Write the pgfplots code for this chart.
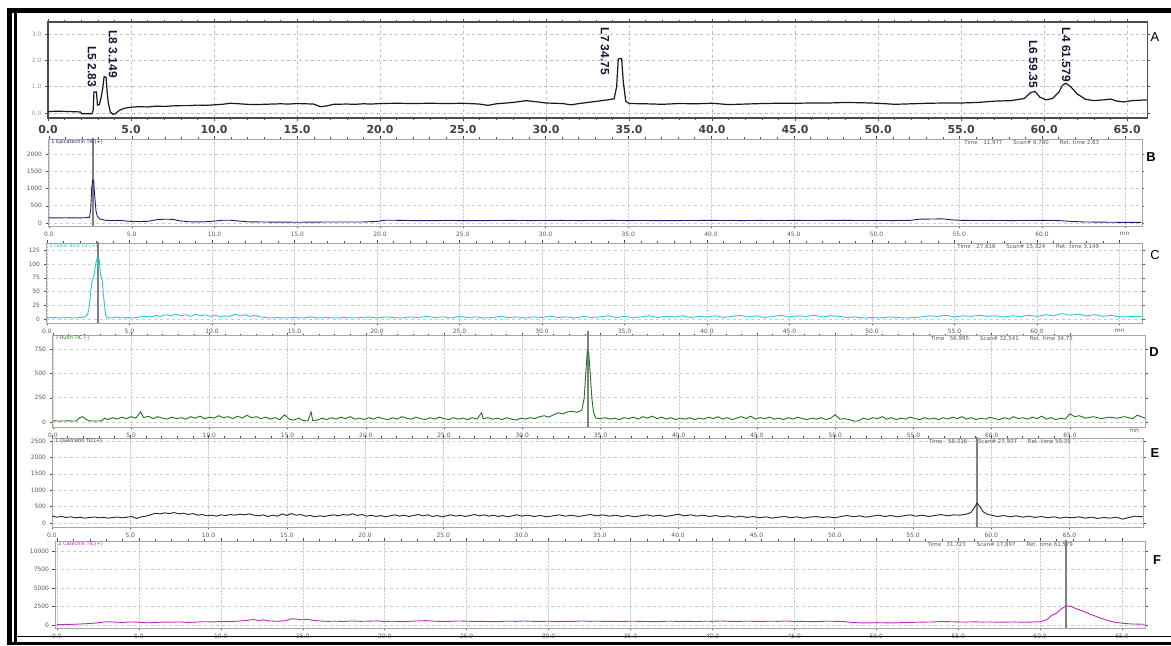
\documentclass[border=0pt]{standalone}
\usepackage{pgfplots}
\pgfplotsset{compat=1.18}
\usepackage{fontspec}
\setmainfont{DejaVu Sans}
\newfontfamily\lib{Liberation Sans}
\definecolor{navyc}{RGB}{30,30,110}
\definecolor{cyanc}{RGB}{40,200,210}
\definecolor{greenc}{RGB}{30,115,30}
\definecolor{magc}{RGB}{190,40,190}
\definecolor{lblc}{RGB}{20,20,55}
\tikzset{
  tl/.style={anchor=north west, inner sep=1bp, font=\fontsize{5}{5}\selectfont},
  tr/.style={anchor=north east, inner sep=1bp, font=\fontsize{5.5}{5.5}\selectfont, text=gray!70!black},
  mnl/.style={anchor=north, inner sep=1bp, font=\fontsize{6}{6}\selectfont, text=gray!70!black, yshift=-1bp},
  cursor/.style={black!50, line width=2bp},
}
\pgfplotsset{
  every axis/.append style={scale only axis, anchor=south west},
  chrom/.style={
    xtick={0,5,...,65},
    minor x tick num=4,
    tick align=outside,
    major tick length=2.5bp, minor tick length=1.5bp,
    tick style={gray!60!black, line width=0.4bp},
    axis line style={gray!70, line width=0.7bp},
    grid=major,
    major x grid style={densely dotted, gray!40, line width=0.5bp},
    major y grid style={dashed, gray!40, line width=0.5bp},
    ticklabel style={font=\fontsize{6}{6}\selectfont, text=gray!70!black},
    /pgf/number format/assume math mode=true,
    /pgf/number format/1000 sep={},
    scaled y ticks=false,
  },
  labB/.style={xticklabels={0.0,5.0,10.0,15.0,20.0,25.0,30.0,35.0,40.0,45.0,50.0,55.0,60.0,mn}},
  labD/.style={xticklabels={0.0,5.0,10.0,15.0,20.0,25.0,30.0,35.0,40.0,45.0,50.0,55.0,60.0,65.0}},
}
\begin{document}
\begin{tikzpicture}
\useasboundingbox (0bp,0bp) rectangle (1171bp,646bp);
% outer frame
\fill[black] (7bp,633bp) rectangle (1171bp,638bp);
\fill[black] (7bp,1bp) rectangle (12bp,638bp);
\fill[black] (14bp,1bp) rectangle (16.5bp,633bp);
\fill[black] (7bp,1bp) rectangle (1171bp,4bp);
\draw[black, line width=1bp] (14bp,9bp) -- (1171bp,9bp);

% ---------------- Panel A ----------------
\begin{axis}[at={(48bp,528bp)}, width=1099bp, height=96bp,
  xmin=0, xmax=66.2, ymin=-0.19, ymax=3.46,
  xtick={0,5,...,65},
  xticklabels={0.0,5.0,10.0,15.0,20.0,25.0,30.0,35.0,40.0,45.0,50.0,55.0,60.0,65.0},
  minor x tick num=4,
  ytick={0,1,2,3}, yticklabels={0.0,1.0,2.0,3.0},
  tick align=outside, major tick length=3bp, minor tick length=2bp,
  tick style={black!70, line width=0.6bp},
  axis line style={black!70, line width=1.1bp},
  grid=major, grid style={dashed, gray!50, line width=0.6bp},
  xticklabel style={font=\bfseries\fontsize{11}{11}\selectfont, text=black!75, yshift=-1bp},
  yticklabel style={font=\fontsize{6}{6}\selectfont, text=gray!80},
]
\addplot[black!90, line width=1.2bp] coordinates {
(0,0.05)(0.5,0.07)(1,0.06)(1.5,0.05)(1.95,0.04)(2.05,-0.03)(2.65,-0.03)(2.72,0.1)(2.77,0.8)(2.92,0.8)(2.98,0.3)(3.1,0.32)(3.2,0.6)(3.3,0.95)(3.38,1.38)(3.5,1.36)(3.56,0.8)(3.63,0.4)(3.75,0.05)(3.9,-0.05)(4.05,-0.03)(4.3,0.1)(4.6,0.18)(5,0.22)(5.5,0.24)(6,0.23)(6.5,0.26)(7,0.25)(7.5,0.27)(8,0.28)(8.5,0.28)(9,0.3)(9.5,0.29)(10,0.31)(10.5,0.33)(11,0.37)(11.5,0.35)(12,0.33)(12.5,0.32)(13,0.33)(13.5,0.34)(14,0.35)(14.5,0.34)(15,0.36)(15.5,0.35)(16,0.34)(16.4,0.24)(16.8,0.27)(17.2,0.33)(18,0.34)(18.5,0.33)(19,0.35)(19.5,0.34)(20,0.36)(21,0.37)(22,0.36)(23,0.37)(24,0.36)(25,0.37)(26,0.34)(26.5,0.29)(27,0.35)(28,0.4)(28.8,0.47)(29.5,0.42)(30,0.38)(31,0.36)(31.5,0.31)(32,0.36)(33,0.44)(33.7,0.5)(34.1,0.54)(34.25,1.0)(34.35,2.05)(34.55,2.08)(34.65,1.2)(34.8,0.45)(35,0.36)(36,0.35)(37,0.33)(38,0.36)(39,0.35)(40,0.37)(41,0.32)(42,0.34)(43,0.36)(44,0.37)(45,0.37)(46,0.38)(47,0.38)(48,0.4)(49,0.39)(50,0.37)(51,0.33)(52,0.35)(53,0.37)(54,0.38)(55,0.38)(56,0.4)(57,0.45)(58,0.47)(58.8,0.55)(59.2,0.78)(59.45,0.82)(59.75,0.6)(60.1,0.5)(60.5,0.55)(60.9,0.8)(61.1,1.05)(61.3,1.13)(61.6,1.0)(62,0.72)(62.5,0.52)(63,0.47)(63.6,0.5)(64,0.53)(64.4,0.45)(64.8,0.42)(65.3,0.47)(66.2,0.5)};
\begin{scope}[every node/.style={rotate=-90, anchor=east, inner sep=0pt, font=\lib\bfseries\fontsize{12}{12}\selectfont, text=lblc}]
\node at (axis cs:2.65,0.99) {L5 2.83};
\node at (axis cs:3.92,1.33) {L8 3.149};
\node at (axis cs:33.55,1.44) {L7 34.75};
\node at (axis cs:59.34,0.95) {L6 59.35};
\node at (axis cs:61.33,1.18) {L4 61.579};
\end{scope}
\end{axis}

% ---------------- Panel B ----------------
\begin{axis}[chrom, labB, at={(48bp,420bp)}, width=1094bp, height=87bp,
  xmin=-0.06, xmax=66.04, ymin=-87, ymax=2435, ytick={0,500,1000,1500,2000}]
\addplot[cursor] coordinates {(2.66,-200)(2.66,3000)};
\addplot[navyc, line width=0.9bp] coordinates {
(0,150)(0.5,148)(1,152)(1.5,147)(2,150)(2.3,155)(2.45,170)(2.52,400)(2.58,1000)(2.64,1250)(2.7,1230)(2.76,800)(2.84,350)(2.93,180)(3.1,110)(3.4,80)(3.8,70)(4.2,75)(4.6,60)(5,45)(5.5,42)(6,50)(6.5,95)(7,110)(7.5,105)(7.9,60)(8.5,35)(9,30)(9.5,38)(10,55)(10.5,80)(11,78)(11.5,55)(12,35)(13,28)(14,25)(15,22)(16,25)(17,30)(18,28)(19,30)(19.8,45)(20.3,80)(21,78)(22,70)(23,68)(24,72)(25,70)(26,68)(27,72)(28,75)(29,70)(30,72)(31,74)(32,70)(33,72)(34,75)(35,70)(36,72)(37,68)(38,70)(39,73)(40,75)(41,72)(42,70)(43,74)(44,72)(45,75)(46,72)(47,74)(48,76)(49,72)(50,74)(51,70)(52,75)(52.6,110)(53.3,115)(54,120)(54.6,90)(55.2,75)(56,72)(57,74)(58,70)(59,72)(60,75)(61,70)(61.8,45)(62.5,30)(63.5,25)(64.5,20)(66,18)};
\node[tl, text=navyc] at (rel axis cs:0.002,1) {1 Epicatechin TIC(+)};
\node[tr] at (rel axis cs:0.962,1) {Time\quad 11.977\qquad Scan\#\ 6,780\qquad Ret. time\ 2.83};
\end{axis}

% ---------------- Panel C ----------------
\begin{axis}[chrom, labB, at={(46bp,323bp)}, width=1096bp, height=80bp,
  xmin=-0.06, xmax=66.36, ymin=-7, ymax=138, ytick={0,25,50,75,100,125}]
\addplot[cursor] coordinates {(3.09,-20)(3.09,200)};
\addplot[cyanc, line width=0.9bp] coordinates {
(0,2)(0.4,3)(0.8,2)(1.2,3)(1.6,2)(2,3)(2.3,4)(2.45,8)(2.55,20)(2.65,50)(2.75,72)(2.85,78)(2.95,100)(3.05,112)(3.1,95)(3.17,105)(3.25,80)(3.35,70)(3.45,35)(3.55,8)(3.65,3)(3.9,2)(4.2,4)(4.5,2)(4.8,3)(5.2,2)(5.6,4)(6,5)(6.3,4)(6.6,7)(6.9,5)(7.2,8)(7.5,6)(7.8,9)(8.1,6)(8.4,8)(8.7,5)(9,9)(9.3,6)(9.6,8)(9.9,5)(10.2,7)(10.5,4)(10.8,6)(11.1,5)(11.4,9)(11.7,6)(12,8)(12.3,5)(12.6,7)(12.9,4)(13.2,3)(13.6,2)(14,3)(14.5,2)(15,3)(15.5,2)(16,4)(16.5,2)(17,3)(17.5,2)(18,3)(18.5,2)(19,3)(19.5,4)(20,2)(20.5,4)(21,3)(21.5,2)(22,4)(22.5,3)(23,5)(23.5,3)(24,4)(24.5,2)(25,5)(25.5,3)(26,4)(26.5,2)(27,3)(27.5,5)(28,3)(28.5,4)(29,2)(29.5,4)(30,3)(30.5,5)(31,3)(31.5,4)(32,2)(32.5,5)(33,3)(33.5,4)(34,6)(34.5,3)(35,5)(35.5,3)(36,4)(36.5,6)(37,3)(37.5,5)(38,4)(38.5,6)(39,3)(39.5,5)(40,4)(40.5,6)(41,3)(41.5,5)(42,7)(42.5,4)(43,6)(43.5,3)(44,5)(44.5,7)(45,4)(45.5,6)(46,5)(46.5,7)(47,4)(47.5,6)(48,5)(48.5,3)(49,4)(49.5,2)(50,3)(50.5,2)(51,4)(51.5,3)(52,2)(52.5,3)(53,4)(53.5,6)(54,5)(54.5,7)(55,4)(55.5,6)(56,5)(56.5,7)(57,5)(57.5,6)(58,4)(58.5,6)(59,5)(59.5,7)(60,5)(60.5,8)(61,6)(61.5,10)(62,7)(62.5,9)(63,6)(63.5,8)(64,5)(64.5,7)(65,4)(66.3,5)};
\node[tl, text=cyanc] at (rel axis cs:0.002,1) {1 Gallic acid TIC(+)};
\node[tr] at (rel axis cs:0.962,1) {Time\quad 27.616\qquad Scan\#\ 15,324\qquad Ret. time\ 3.149};
\end{axis}

% ---------------- Panel D ----------------
\begin{axis}[chrom, labD, at={(52bp,219bp)}, width=1093bp, height=92bp,
  xmin=-0.06, xmax=69.8, ymin=-51, ymax=895, ytick={0,250,500,750}, clip=false]
\addplot[cursor] coordinates {(34.2,-51)(34.2,940)};
\addplot[greenc, line width=0.9bp] coordinates {
(0,12)(0.5,10)(1,12)(1.5,10)(1.7,45)(1.9,55)(2.1,30)(2.3,12)(2.7,10)(3.1,12)(3.3,40)(3.5,25)(3.8,45)(4.1,30)(4.4,50)(4.7,35)(5,55)(5.3,40)(5.6,105)(5.8,45)(6.1,60)(6.4,35)(6.7,55)(7,40)(7.3,30)(7.6,50)(7.9,35)(8.2,45)(8.5,30)(8.8,55)(9.1,40)(9.4,60)(9.7,35)(10,50)(10.3,40)(10.6,65)(10.9,45)(11.2,55)(11.5,35)(11.8,60)(12.1,40)(12.4,70)(12.7,45)(13,55)(13.3,35)(13.6,50)(13.9,30)(14.2,45)(14.5,25)(14.8,75)(15.1,30)(15.4,20)(15.7,40)(16,15)(16.3,12)(16.5,105)(16.6,15)(16.9,20)(17.2,40)(17.5,25)(17.8,45)(18.1,30)(18.4,50)(18.7,35)(19,55)(19.3,30)(19.6,40)(19.9,25)(20.2,45)(20.5,30)(20.8,50)(21.1,35)(21.4,25)(21.7,45)(22,30)(22.3,55)(22.6,40)(22.9,30)(23.2,50)(23.5,35)(23.8,25)(24.1,45)(24.4,30)(24.7,50)(25,35)(25.3,25)(25.6,45)(25.9,30)(26.2,40)(26.5,25)(26.8,45)(27.1,30)(27.4,95)(27.5,35)(27.8,45)(28.1,30)(28.4,40)(28.7,25)(29,45)(29.3,30)(29.6,20)(29.9,40)(30.2,30)(30.5,45)(30.8,35)(31.1,55)(31.4,65)(31.7,50)(32,75)(32.3,95)(32.6,85)(32.9,105)(33.2,110)(33.5,100)(33.8,120)(33.95,240)(34.05,480)(34.15,730)(34.25,700)(34.35,470)(34.45,240)(34.55,100)(34.7,40)(35,35)(35.3,45)(35.6,30)(35.9,40)(36.2,25)(36.5,45)(36.8,35)(37.1,50)(37.4,30)(37.7,55)(38,40)(38.3,60)(38.6,35)(38.9,50)(39.2,30)(39.5,45)(39.8,25)(40.1,40)(40.4,30)(40.7,45)(41,25)(41.3,40)(41.6,30)(41.9,50)(42.2,35)(42.5,55)(42.8,30)(43.1,45)(43.4,25)(43.7,40)(44,55)(44.3,35)(44.6,60)(44.9,30)(45.2,45)(45.5,35)(45.8,50)(46.1,30)(46.4,40)(46.7,25)(47,45)(47.3,30)(47.6,50)(47.9,35)(48.2,25)(48.5,40)(48.8,30)(49.1,45)(49.4,25)(49.7,40)(50,75)(50.3,30)(50.6,35)(50.9,25)(51.2,10)(51.5,12)(51.8,40)(52.1,25)(52.4,45)(52.7,35)(53,55)(53.3,30)(53.6,45)(53.9,25)(54.2,40)(54.5,30)(54.8,50)(55.1,35)(55.4,25)(55.7,45)(56,30)(56.3,40)(56.6,25)(56.9,45)(57.2,30)(57.5,50)(57.8,35)(58.1,55)(58.4,30)(58.7,45)(59,25)(59.3,40)(59.6,30)(59.9,50)(60.2,35)(60.5,25)(60.8,45)(61.1,30)(61.4,55)(61.7,35)(62,45)(62.3,30)(62.6,50)(62.9,35)(63.2,60)(63.5,30)(63.8,45)(64.1,25)(64.4,40)(64.7,30)(65,85)(65.3,55)(65.6,65)(66,40)(66.5,55)(67,35)(67.5,50)(68,40)(68.5,55)(69,35)(69.3,70)(69.8,40)};
\node[tl, text=greenc] at (rel axis cs:0.002,1) {7 Rutin TIC (-)};
\node[tr] at (rel axis cs:0.935,1) {Time\quad 56.995\qquad Scan\#\ 32,541\qquad Ret. time\ 34.75};
\node[mnl] at (rel axis cs:0.99,0) {mn};
\end{axis}

% ---------------- Panel E ----------------
\begin{axis}[chrom, labD, at={(52bp,119bp)}, width=1091bp, height=89bp,
  xmin=0, xmax=69.7, ymin=-120, ymax=2590, ytick={0,500,1000,1500,2000,2500}]
\addplot[cursor] coordinates {(59.1,-200)(59.1,3000)};
\addplot[black!85, line width=0.9bp] coordinates {
(0,210)(0.3,180)(0.6,200)(0.9,170)(1.2,190)(1.5,160)(1.8,175)(2.1,150)(2.4,170)(2.7,185)(3,160)(3.3,175)(3.6,150)(3.9,170)(4.2,185)(4.5,160)(4.8,180)(5.1,200)(5.4,140)(5.7,190)(6,210)(6.3,250)(6.6,300)(6.9,280)(7.2,310)(7.5,290)(7.8,320)(8.1,280)(8.4,300)(8.7,260)(9,290)(9.3,240)(9.6,260)(9.9,220)(10.2,240)(10.5,210)(10.8,250)(11.1,230)(11.4,260)(11.7,240)(12,270)(12.3,250)(12.6,280)(12.9,240)(13.2,220)(13.5,250)(13.8,200)(14.1,240)(14.4,210)(14.7,280)(15,230)(15.3,290)(15.6,240)(15.9,260)(16.2,210)(16.5,230)(16.8,190)(17.1,220)(17.4,200)(17.7,230)(18,250)(18.3,220)(18.6,260)(18.9,240)(19.2,280)(19.5,230)(19.8,260)(20.1,210)(20.4,240)(20.7,200)(21,230)(21.3,190)(21.6,220)(21.9,250)(22.2,210)(22.5,240)(22.8,200)(23.1,230)(23.4,260)(23.7,220)(24,250)(24.3,200)(24.6,230)(24.9,190)(25.2,220)(25.5,250)(25.8,210)(26.1,240)(26.4,200)(26.7,230)(27,260)(27.3,220)(27.6,250)(27.9,210)(28.2,240)(28.5,200)(28.8,230)(29.1,190)(29.4,220)(29.7,250)(30,210)(30.4,240)(30.8,200)(31.2,230)(31.6,190)(32,220)(32.4,250)(32.8,210)(33.2,240)(33.6,200)(34,230)(34.4,260)(34.8,220)(35.2,250)(35.6,210)(36,240)(36.4,200)(36.8,230)(37.2,190)(37.6,220)(38,250)(38.4,210)(38.8,240)(39.2,200)(39.6,230)(40,270)(40.4,220)(40.8,250)(41.2,210)(41.6,240)(42,200)(42.4,230)(42.8,190)(43.2,220)(43.6,180)(44,210)(44.4,170)(44.8,200)(45.2,160)(45.6,190)(46,150)(46.4,180)(46.8,200)(47.2,160)(47.6,190)(48,150)(48.4,180)(48.8,200)(49.2,170)(49.6,190)(50,160)(50.4,200)(50.8,230)(51.2,190)(51.6,220)(52,180)(52.4,210)(52.8,240)(53.2,200)(53.6,230)(54,190)(54.4,220)(54.8,250)(55.2,210)(55.6,240)(56,200)(56.4,230)(56.8,260)(57.2,220)(57.6,250)(58,240)(58.4,270)(58.7,320)(58.9,450)(59.1,610)(59.3,480)(59.5,340)(59.8,260)(60.1,230)(60.4,200)(60.8,230)(61.2,190)(61.6,220)(62,180)(62.4,210)(62.8,170)(63.2,200)(63.6,160)(64,190)(64.4,150)(64.8,180)(65.2,160)(65.6,190)(66,150)(66.4,180)(66.8,140)(67.2,170)(67.6,150)(68,180)(68.4,120)(68.8,170)(69.2,210)(69.7,190)};
\node[tl, text=black!80] at (rel axis cs:0.002,1) {1 Quercetin TIC(+)};
\node[tr] at (rel axis cs:0.935,1) {Time\quad 58.316\qquad Scan\#\ 27,937\qquad Ret. time\ 59.35};
\node[mnl] at (rel axis cs:0.99,0) {mn};
\end{axis}

% ---------------- Panel F ----------------
\begin{axis}[chrom, labD, at={(55bp,18bp)}, width=1090bp, height=87bp,
  xmin=-0.12, xmax=66.4, ymin=-400, ymax=11350, ytick={0,2500,5000,7500,10000}]
\addplot[cursor] coordinates {(61.57,-1000)(61.57,13000)};
\addplot[magc, line width=0.9bp] coordinates {
(0,50)(0.5,80)(1,100)(1.5,150)(2,200)(2.5,300)(3,450)(3.5,400)(4,350)(4.5,420)(5,380)(5.5,300)(6,350)(6.5,400)(7,380)(7.5,420)(8,350)(8.5,400)(9,450)(9.5,420)(10,480)(10.5,450)(11,520)(11.5,600)(12,750)(12.3,600)(12.6,700)(13,550)(13.5,500)(14,600)(14.3,850)(14.6,800)(15,700)(15.3,780)(15.6,650)(16,550)(16.5,500)(17,520)(17.5,480)(18,550)(18.5,500)(19,520)(19.5,560)(20,480)(20.5,520)(21,450)(21.5,500)(22,550)(22.5,600)(23,520)(23.5,480)(24,500)(24.5,550)(25,520)(25.5,480)(26,500)(26.5,450)(27,480)(27.5,520)(28,500)(28.5,550)(29,500)(29.5,480)(30,520)(30.5,450)(31,500)(31.5,480)(32,550)(32.5,500)(33,520)(33.5,480)(34,500)(34.5,470)(35,520)(35.5,500)(36,480)(36.5,450)(37,500)(37.5,520)(38,480)(38.5,500)(39,470)(39.5,520)(40,500)(40.5,550)(41,500)(41.5,480)(42,520)(42.5,500)(43,480)(43.5,520)(44,500)(44.5,550)(45,480)(45.5,500)(46,450)(46.5,480)(47,520)(47.5,500)(48,480)(48.5,350)(49,300)(49.5,280)(50,320)(50.5,300)(51,280)(51.5,320)(52,350)(52.5,380)(53,400)(53.5,420)(54,480)(54.5,450)(55,420)(55.5,400)(56,430)(56.5,400)(57,420)(57.5,380)(58,400)(58.5,420)(59,380)(59.5,400)(60,450)(60.4,700)(60.7,1300)(61,1600)(61.3,2200)(61.6,2600)(61.9,2500)(62.2,2200)(62.6,1900)(63,1500)(63.5,1100)(64,700)(64.5,400)(65,250)(65.5,150)(66,120)(66.4,100)};
\node[tl, text=magc] at (rel axis cs:0.002,1) {2 Catechin TIC(+)};
\node[tr] at (rel axis cs:0.935,1) {Time\quad 31.723\qquad Scan\#\ 17,897\qquad Ret. time\ 61.579};
\node[mnl] at (rel axis cs:0.99,0) {mn};
\end{axis}

% panel letters
\begin{scope}[every node/.style={font=\lib\fontsize{13}{13}\selectfont, inner sep=0pt}]
\node at (1155bp,609bp) {A};
\node[font=\lib\bfseries\fontsize{13}{13}\selectfont] at (1151bp,489bp) {B};
\node at (1155bp,391bp) {C};
\node[font=\lib\bfseries\fontsize{13}{13}\selectfont] at (1154bp,294bp) {D};
\node[font=\lib\bfseries\fontsize{13}{13}\selectfont] at (1155bp,193bp) {E};
\node[font=\lib\bfseries\fontsize{13}{13}\selectfont] at (1157bp,86bp) {F};
\end{scope}
\end{tikzpicture}
\end{document}
